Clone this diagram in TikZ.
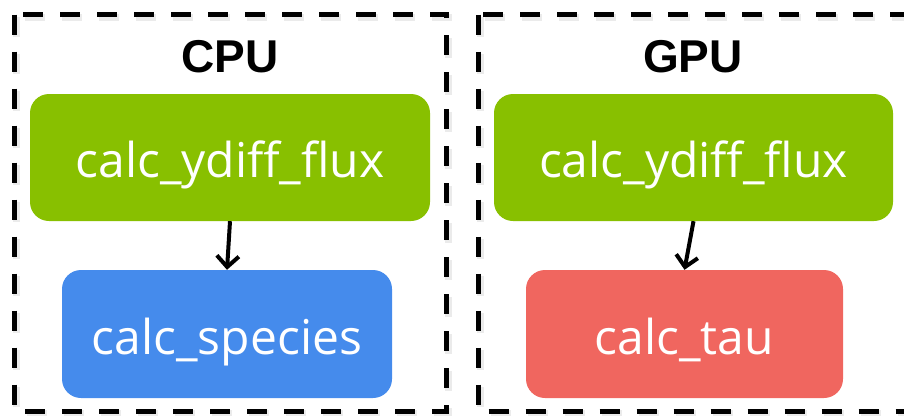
\documentclass[tikz,border=0pt]{standalone}
\usepackage{fontspec}
\setmainfont{Liberation Sans}
\newfontfamily\boxfont{Open Sans}
\usetikzlibrary{arrows.meta}

\definecolor{kgreen}{RGB}{136,192,0}
\definecolor{kblue}{RGB}{69,139,236}
\definecolor{kred}{RGB}{240,102,95}

\tikzset{
  region/.style={draw=black, line width=5pt, dash pattern=on 20pt off 17pt, line join=miter},
  regionshadow/.style={draw=black, line width=7pt, dash pattern=on 20pt off 17pt, opacity=0.08},
  title/.style={font=\fontsize{46}{50}\selectfont\bfseries, anchor=base, inner sep=0pt},
  kernel/.style={rounded corners=19pt, inner sep=0pt, text=white,
    font=\boxfont\fontsize{48}{52}\selectfont, text height=40pt, text depth=0pt},
  flow/.style={draw=black, line width=4pt, -{Straight Barb[length=11pt, width=22pt]}}
}

\begin{document}
\begin{tikzpicture}[x=1pt, y=-1pt]
  \useasboundingbox (0,0) rectangle (904,415);

  % dashed regions with a soft shadow
  \draw[regionshadow] (16.5,17) rectangle (448,413.5);
  \draw[regionshadow] (480,17) rectangle (910,413.5);
  \draw[region] (14.5,14.5) rectangle (446,411);
  \draw[region] (478,14.5) rectangle (908,411);

  % region titles
  \node[title] (cpu) at (230,72) {CPU};
  \node[title] (gpu) at (693,72) {GPU};

  % kernels
  \node[kernel, fill=kgreen, minimum width=400pt, minimum height=127pt] (cflux) at (230,157.5) {calc\_ydiff\_flux};
  \node[kernel, fill=kblue, minimum width=330pt, minimum height=128pt] (spec) at (227,334) {calc\_species};
  \node[kernel, fill=kgreen, minimum width=399pt, minimum height=127pt] (gflux) at (693.5,157.5) {calc\_ydiff\_flux};
  \node[kernel, fill=kred, minimum width=317pt, minimum height=128pt] (tau) at (684.5,334) {calc\_tau};

  % call order
  \draw[flow] (cflux.south) -- (spec.north);
  \draw[flow] (gflux.south) -- (tau.north);
\end{tikzpicture}
\end{document}
